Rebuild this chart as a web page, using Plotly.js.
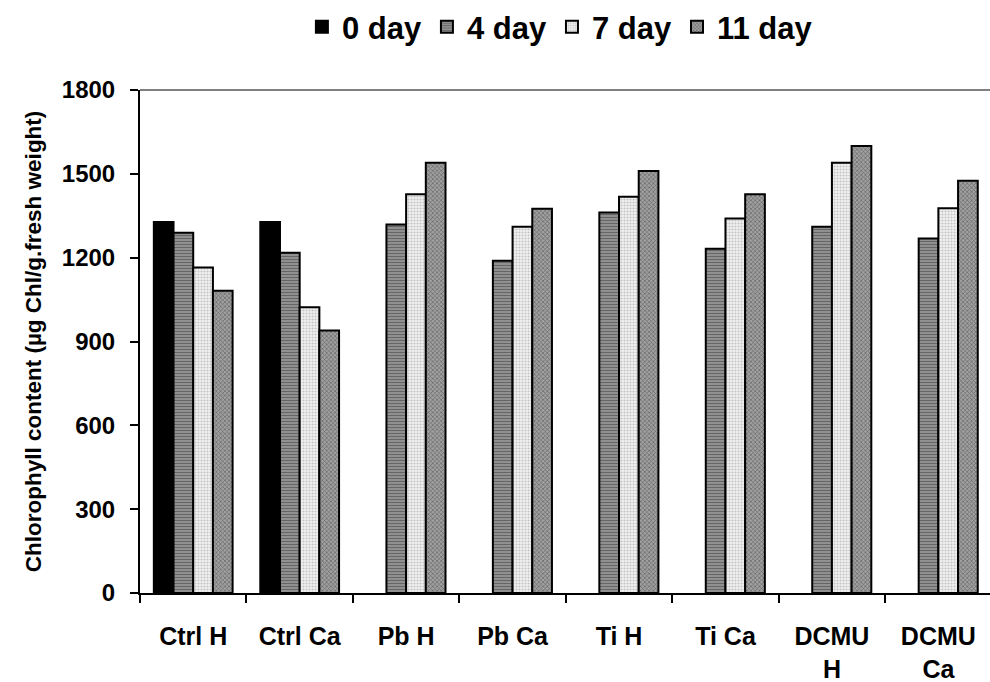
<!DOCTYPE html>
<html>
<head>
<meta charset="utf-8">
<script src="https://cdn.plot.ly/plotly-3.0.1.min.js"></script>
<style>html,body{margin:0;padding:0;background:#fff;overflow:hidden;}</style>
</head>
<body>
<div id="chart" style="width:990px;height:682px;"></div>
<script>
var categories = ["Ctrl H", "Ctrl Ca", "Pb H", "Pb Ca", "Ti H", "Ti Ca", "DCMU<br>H", "DCMU<br>Ca"];
var day0 = [1328, 1328, null, null, null, null, null, null];
var day4 = [1289, 1218, 1319, 1189, 1362, 1232, 1311, 1269];
var day7 = [1165, 1023, 1427, 1311, 1418, 1340, 1540, 1377];
var day11 = [1082, 939, 1540, 1375, 1510, 1427, 1600, 1475];
var seriesNames = ["0 day", "4 day", "7 day", "11 day"];
var yTicks = [0, 300, 600, 900, 1200, 1500, 1800];

var FONT = "Arial, 'Liberation Sans', sans-serif";
var line = {color: "#000", width: 2};

var traces = [
  {type: "bar", name: seriesNames[0], x: categories, y: day0,
   marker: {color: "#000", line: line}},
  {type: "bar", name: seriesNames[1], x: categories, y: day4,
   marker: {color: "#858585", line: line,
            pattern: {shape: "-", bgcolor: "#959595", fgcolor: "#666666", size: 3, solidity: 0.4}}},
  {type: "bar", name: seriesNames[2], x: categories, y: day7,
   marker: {color: "#e6e6e6", line: line,
            pattern: {shape: ".", bgcolor: "#f2f2f2", fgcolor: "#c4c4c4", size: 3, solidity: 0.4}}},
  {type: "bar", name: seriesNames[3], x: categories, y: day11,
   marker: {color: "#8a8a8a", line: line,
            pattern: {shape: "x", bgcolor: "#a0a0a0", fgcolor: "#666666", size: 3, solidity: 0.4}}}
];

var layout = {
  width: 990, height: 682,
  margin: {l: 140, r: 0, t: 90, b: 89},
  paper_bgcolor: "#fff", plot_bgcolor: "#fff",
  barmode: "group", bargap: 0.26, bargroupgap: 0,
  showlegend: true,
  legend: {orientation: "h", x: 0.494, xanchor: "center", y: 1.125, yanchor: "middle",
           font: {family: FONT, size: 31, color: "#000", weight: "bold"},
           itemsizing: "constant", traceorder: "normal"},
  font: {family: FONT, color: "#000"},
  xaxis: {type: "category", range: [-0.5, 7.485], showline: true, linecolor: "#000", linewidth: 2,
          ticks: "outside", tickson: "boundaries", ticklen: 8, tickwidth: 2, tickcolor: "#000",
          ticklabelstandoff: 20,
          showgrid: false, zeroline: false, fixedrange: true,
          tickfont: {family: FONT, size: 25, color: "#000", weight: "bold"}},
  yaxis: {range: [0, 1800], tickvals: yTicks, ticktext: yTicks.map(String),
          showline: true, linecolor: "#000", linewidth: 2,
          ticks: "outside", ticklen: 8, tickwidth: 2, tickcolor: "#000", ticklabelstandoff: 10,
          showgrid: false, zeroline: false,
          tickfont: {family: FONT, size: 24, color: "#000", weight: "bold"},
          title: {text: "Chlorophyll content (\u00b5g Chl/g.fresh weight)", standoff: 14,
                  font: {family: FONT, size: 22.5, color: "#000", weight: "bold"}}},
  shapes: [{type: "line", xref: "paper", yref: "paper", x0: 0, x1: 1, y0: 1, y1: 1,
            line: {color: "#808080", width: 2}}]
};

Plotly.newPlot("chart", traces, layout, {staticPlot: true, displayModeBar: false});
</script>
</body>
</html>
